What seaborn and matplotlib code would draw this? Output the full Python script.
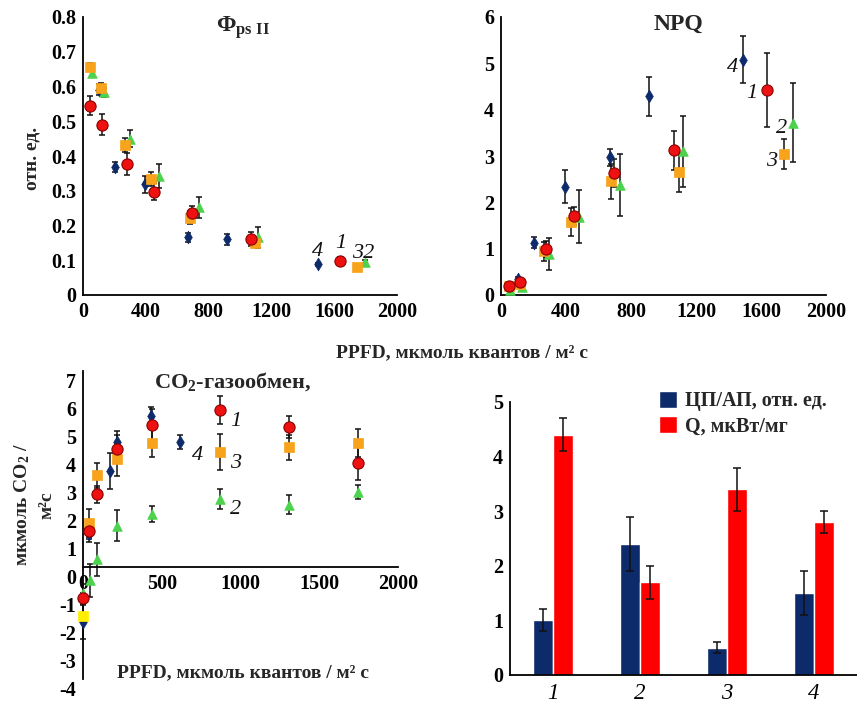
import numpy as np
import pandas as pd
import matplotlib
matplotlib.use('Agg')
import matplotlib.pyplot as plt
import matplotlib.transforms as mtransforms
import seaborn as sns
from matplotlib.patches import Patch

# ---------------- data ----------------
# Phi PS II panel
phi_x1 = [47, 123, 279, 451, 696, 1068, 1634]
phi_y1 = [0.545, 0.49, 0.378, 0.297, 0.235, 0.160, 0.099]
phi_e1 = [0.028, 0.03, 0.032, 0.025, 0.02, 0.02, 0.01]
phi_x2 = [57, 134, 298, 483, 740, 1117, 1798]
phi_y2 = [0.639, 0.583, 0.450, 0.342, 0.252, 0.166, 0.096]
phi_e2 = [0.01, 0.012, 0.025, 0.035, 0.03, 0.03, 0.005]
phi_x3 = [43, 117, 266, 436, 681, 1096, 1745]
phi_y3 = [0.656, 0.597, 0.431, 0.333, 0.223, 0.151, 0.081]
phi_e3 = [0.012, 0.012, 0.02, 0.02, 0.02, 0.01, 0.005]
phi_x4 = [102, 202, 396, 670, 919, 1494]
phi_y4 = [0.591, 0.369, 0.318, 0.166, 0.160, 0.088]
phi_e4 = [0.015, 0.015, 0.025, 0.013, 0.015, 0.005]

# NPQ panel
npq_x1 = [49, 119, 279, 451, 693, 1067, 1637]
npq_y1 = [0.20, 0.29, 0.99, 1.71, 2.63, 3.12, 4.42]
npq_e1 = [0.05, 0.06, 0.18, 0.2, 0.3, 0.43, 0.8]
npq_x2 = [53, 127, 293, 482, 734, 1118, 1797]
npq_y2 = [0.11, 0.17, 0.88, 1.69, 2.38, 3.10, 3.72]
npq_e2 = [0.03, 0.04, 0.35, 0.57, 0.67, 0.77, 0.86]
npq_x3 = [49, 119, 263, 431, 677, 1093, 1742]
npq_y3 = [0.19, 0.24, 0.94, 1.58, 2.45, 2.65, 3.04]
npq_e3 = [0.04, 0.05, 0.2, 0.3, 0.38, 0.42, 0.33]
npq_x4 = [103, 201, 396, 673, 913, 1491]
npq_y4 = [0.34, 1.13, 2.34, 2.97, 4.29, 5.08]
npq_e4 = [0.05, 0.12, 0.36, 0.18, 0.42, 0.5]

# CO2 gas exchange panel
co2_x1 = [0, 41, 90, 216, 437, 873, 1309, 1743]
co2_y1 = [-1.12, 1.29, 2.59, 4.2, 5.08, 5.6, 4.99, 3.72]
co2_e1 = [0.2, 0.3, 0.3, 0.5, 0.55, 0.5, 0.4, 0.6]
co2_x2 = [0, 44, 90, 216, 437, 869, 1309, 1743]
co2_y2 = [-0.92, -0.48, 0.27, 1.47, 1.89, 2.43, 2.23, 2.67]
co2_e2 = [0.3, 0.6, 0.6, 0.55, 0.3, 0.35, 0.35, 0.25]
co2_x3 = [39, 87, 216, 437, 873, 1305, 1743]
co2_y3 = [1.57, 3.28, 3.84, 4.42, 4.10, 4.28, 4.42]
co2_e3 = [0.5, 0.45, 0.6, 0.5, 0.65, 0.45, 0.5]
co2_x4 = [0, 41, 170, 216, 432, 613]
co2_y4 = [-1.96, 1.19, 3.43, 4.45, 5.41, 4.48]
co2_e4 = [0.6, 0.3, 0.65, 0.4, 0.3, 0.25]
co2_x3b = [0]
co2_y3b = [-1.76]

# bar panel
bar_cats = ['1', '2', '3', '4']
bar_labels = ['ЦП/АП, отн. ед.', 'Q, мкВт/мг']
bar_blue = [1.0, 2.4, 0.5, 1.5]
bar_blue_err = [0.2, 0.5, 0.1, 0.4]
bar_red = [4.4, 1.7, 3.4, 2.8]
bar_red_err = [0.3, 0.3, 0.4, 0.2]

# ---------------- style ----------------
sns.set_theme(style='white')
plt.rcParams['font.family'] = ['Liberation Serif', 'DejaVu Serif']
plt.rcParams['font.weight'] = 'bold'
plt.rcParams['axes.unicode_minus'] = False
plt.rcParams['mathtext.fontset'] = 'custom'
plt.rcParams['mathtext.rm'] = 'Liberation Serif:bold'
plt.rcParams['mathtext.bf'] = 'Liberation Serif:bold'
plt.rcParams['mathtext.it'] = 'Liberation Serif:italic:bold'

RED = '#ee1111'
GREEN = '#4cd24c'
ORANGE = '#f8a31c'
NAVY = '#0d2a6b'
STY = {
    1: dict(marker='o', color=RED, s=65, edgecolor='#8b0000', linewidth=0.8),
    2: dict(marker='^', color=GREEN, s=48, edgecolor=GREEN, linewidth=0.5),
    3: dict(marker='s', color=ORANGE, s=55, edgecolor=ORANGE, linewidth=0.5),
    4: dict(marker='d', color=NAVY, s=42, edgecolor=NAVY, linewidth=0.5),
    5: dict(marker='s', color='#ffee00', s=60, edgecolor='#ffee00', linewidth=0.5),
}

fig = plt.figure(figsize=(8.57, 7.06), dpi=100)

def fig_axes(l, t, r, b):
    W, H = 857, 706
    return fig.add_axes([l / W, 1 - b / H, (r - l) / W, (b - t) / H])

def style_ax(ax):
    for s in ['top', 'right']:
        ax.spines[s].set_visible(False)
    for s in ['left', 'bottom']:
        ax.spines[s].set_color('black')
        ax.spines[s].set_linewidth(1.3)
    ax.tick_params(direction='in', length=4, width=1.1, colors='black',
                   labelsize=14.5, pad=5)
    for lab in ax.get_xticklabels() + ax.get_yticklabels():
        lab.set_fontweight('bold')

def series(ax, x, y, e, k):
    if e is not None:
        ax.errorbar(x, y, yerr=e, fmt='none', ecolor='#111111', elinewidth=1.1,
                    capsize=2.5, capthick=1.1, zorder=2, clip_on=False)
    sns.scatterplot(x=x, y=y, ax=ax, legend=False, zorder=3, clip_on=False, **STY[k])

def lab(ax, x, y, t):
    ax.text(x, y, t, fontsize=16, fontstyle='italic', fontweight='normal',
            ha='center', va='center', color='#111111')

xt = list(range(0, 2001, 200))
xtl = [str(v) if v % 400 == 0 else '' for v in xt]

# ---- Phi PS II ----
ax1 = fig_axes(83, 17, 397, 295)
series(ax1, phi_x4, phi_y4, phi_e4, 4)
series(ax1, phi_x2, phi_y2, phi_e2, 2)
series(ax1, phi_x3, phi_y3, phi_e3, 3)
series(ax1, phi_x1, phi_y1, phi_e1, 1)
ax1.set_xlim(0, 2000)
ax1.set_ylim(0, 0.8)
ax1.set_xticks(xt)
ax1.set_xticklabels(xtl)
yt = [0, 0.1, 0.2, 0.3, 0.4, 0.5, 0.6, 0.7, 0.8]
ax1.set_yticks(yt)
ax1.set_yticklabels(['0'] + [f'{v:.1f}' for v in yt[1:]])
style_ax(ax1)
ax1.set_xlabel('')
ax1.set_ylabel('')
ax1.text(0.51, 0.962, r'$\mathbf{\Phi}_{\mathbf{ps\ II}}$', transform=ax1.transAxes,
         fontsize=17, ha='center', va='center')
lab(ax1, 1494, 0.124, '4')
lab(ax1, 1640, 0.148, '1')
lab(ax1, 1785, 0.12, '32')

# ---- NPQ ----
ax2 = fig_axes(501, 17, 826, 295)
series(ax2, npq_x4, npq_y4, npq_e4, 4)
series(ax2, npq_x2, npq_y2, npq_e2, 2)
series(ax2, npq_x3, npq_y3, npq_e3, 3)
series(ax2, npq_x1, npq_y1, npq_e1, 1)
ax2.set_xlim(0, 2000)
ax2.set_ylim(0, 6)
ax2.set_xticks(xt)
ax2.set_xticklabels(xtl)
ax2.set_yticks(range(0, 7))
style_ax(ax2)
ax2.set_xlabel('')
ax2.set_ylabel('')
ax2.text(0.545, 0.975, 'NPQ', transform=ax2.transAxes, fontsize=17,
         fontweight='bold', ha='center', va='center')
lab(ax2, 1422, 4.9, '4')
lab(ax2, 1545, 4.34, '1')
lab(ax2, 1729, 3.6, '2')
lab(ax2, 1668, 2.88, '3')

# ---- CO2 ----
ax3 = fig_axes(83, 371, 398, 679)
series(ax3, co2_x4, co2_y4, co2_e4, 4)
series(ax3, co2_x2, co2_y2, co2_e2, 2)
series(ax3, co2_x3, co2_y3, co2_e3, 3)
series(ax3, co2_x3b, co2_y3b, None, 5)
series(ax3, co2_x1, co2_y1, co2_e1, 1)
ax3.set_xlim(0, 2000)
ax3.set_ylim(-4, 7)
ax3.set_xticks([0, 500, 1000, 1500, 2000])
ax3.set_yticks(range(-4, 8))
ax3.spines['bottom'].set_position(('data', 0))
style_ax(ax3)
shift = mtransforms.ScaledTranslation(0, -0.09, fig.dpi_scale_trans)
for t in ax3.get_yticklabels():
    t.set_transform(t.get_transform() + shift)
ax3.set_xlabel('')
ax3.set_ylabel('')
ax3.text(0.476, 0.964, r'CO$_{\mathbf{2}}$-газообмен,', transform=ax3.transAxes,
         fontsize=16, fontweight='bold', ha='center', va='center')
ax3.text(0.508, 0.02, 'PPFD, мкмоль квантов / м² с', transform=ax3.transAxes,
         fontsize=14, fontweight='bold', ha='center', va='center')
lab(ax3, 968, 5.2, '1')
lab(ax3, 726, 4.0, '4')
lab(ax3, 968, 3.7, '3')
lab(ax3, 968, 2.07, '2')

# ---- bars ----
ax4 = fig_axes(510, 402, 857, 675)
df = pd.DataFrame({
    'cat': bar_cats * 2,
    'val': bar_blue + bar_red,
    'ser': [bar_labels[0]] * 4 + [bar_labels[1]] * 4,
})
sns.barplot(data=df, x='cat', y='val', hue='ser', palette=[NAVY, '#ff0000'],
            width=0.46, gap=0, errorbar=None, ax=ax4, saturation=1, legend=False)
for cont, errs in zip(ax4.containers, [bar_blue_err, bar_red_err]):
    xs = [b.get_x() + b.get_width() / 2 for b in cont]
    ys = [b.get_height() for b in cont]
    ax4.errorbar(xs, ys, yerr=errs, fmt='none', ecolor='#111111', elinewidth=1.1,
                 capsize=3, capthick=1.1, zorder=3)
ax4.set_xlim(-0.5, 3.5)
ax4.set_ylim(0, 5)
ax4.set_yticks(range(0, 6))
ax4.set_xticks([0.5, 1.5, 2.5], minor=True)
style_ax(ax4)
ax4.tick_params(axis='x', which='major', length=0, labelsize=16.5, pad=6)
ax4.tick_params(axis='x', which='minor', direction='out', length=4, width=1.1)
for t in ax4.get_xticklabels():
    t.set_fontstyle('italic')
    t.set_fontweight('normal')
ax4.set_xlabel('')
ax4.set_ylabel('')
handles = [Patch(facecolor=NAVY), Patch(facecolor='#ff0000')]
leg = ax4.legend(handles, bar_labels, loc='upper right', bbox_to_anchor=(0.935, 1.07),
                 frameon=False, handlelength=0.85, handleheight=0.9, fontsize=14.5,
                 handletextpad=0.4, labelspacing=0.25, borderaxespad=0)
for t in leg.get_texts():
    t.set_fontweight('bold')

# ---- shared labels ----
fig.text(0.539, 0.501, 'PPFD, мкмоль квантов / м² с', fontsize=14,
         fontweight='bold', ha='center', va='center')
fig.text(0.037, 0.775, 'отн. ед.', fontsize=14, fontweight='bold', rotation=90,
         ha='center', va='center')
fig.text(0.026, 0.285, r'мкмоль CO$_{\mathbf{2}}$ /', fontsize=14, fontweight='bold',
         rotation=90, ha='center', va='center')
fig.text(0.055, 0.285, 'м²с', fontsize=14, fontweight='bold',
         rotation=90, ha='center', va='center')

fig.savefig('out.png', dpi=100)
